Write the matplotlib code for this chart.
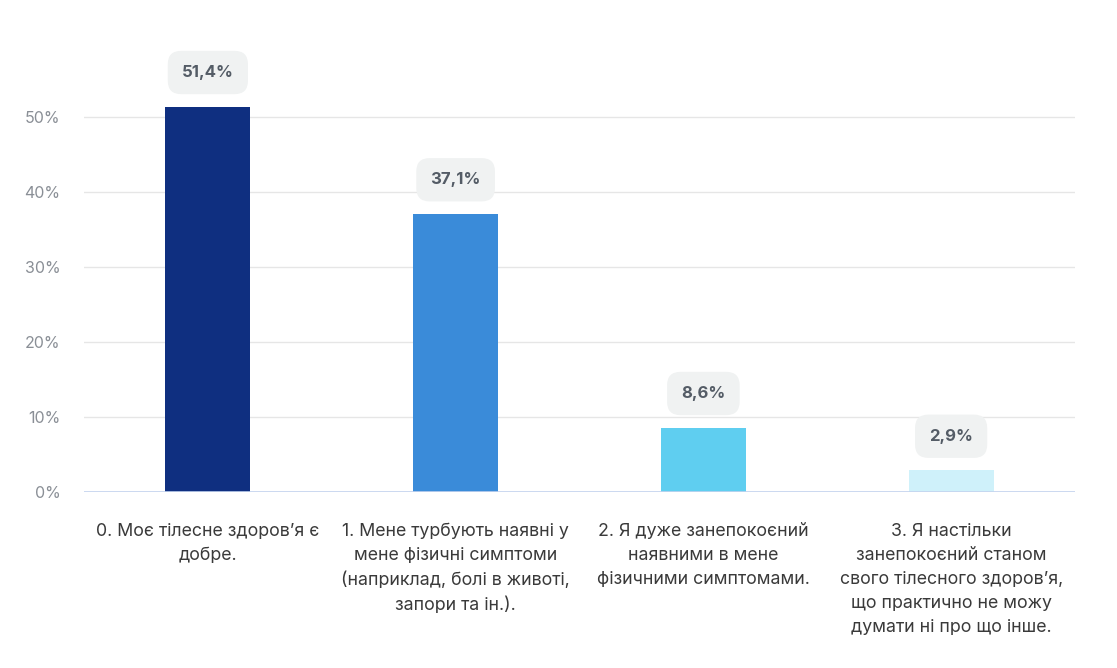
import matplotlib
matplotlib.use('Agg')
import matplotlib.pyplot as plt

categories = [
    "0. Моє тілесне здоров’я є\nдобре.",
    "1. Мене турбують наявні у\nмене фізичні симптоми\n(наприклад, болі в животі,\nзапори та ін.).",
    "2. Я дуже занепокоєний\nнаявними в мене\nфізичними симптомами.",
    "3. Я настільки\nзанепокоєний станом\nсвого тілесного здоров’я,\nщо практично не можу\nдумати ні про що інше.",
]
values = [51.4, 37.1, 8.6, 2.9]
value_labels = ["51,4%", "37,1%", "8,6%", "2,9%"]
yticks = [0, 10, 20, 30, 40, 50]
colors = ["#0f2f80", "#3a8bd9", "#5fcef0", "#cff1fa"]

plt.rcParams['font.family'] = ['Inter', 'DejaVu Sans']

fig = plt.figure(figsize=(11.17, 6.68), dpi=100)
ax = fig.add_axes([84 / 1117, 1 - 492 / 668, 991 / 1117, 450 / 668])

x = range(len(values))
ax.bar(x, values, width=0.343, color=colors, zorder=3)

for i, v in enumerate(values):
    ax.annotate(value_labels[i], (i, v), xytext=(0, 34), textcoords='offset pixels',
                ha='center', va='center', fontsize=12, fontweight='bold', color='#545c66',
                bbox=dict(boxstyle='round,pad=0.85,rounding_size=0.8', fc='#f0f2f2', ec='none'),
                zorder=4)

ax.set_xlim(-0.5, 3.5)
ax.set_ylim(0, 60)
ax.set_yticks(yticks)
ax.set_yticklabels([f"{t}%" for t in yticks])
ax.set_xticks(list(x))
ax.set_xticklabels(categories, fontsize=12.8, color='#3a3a3a', linespacing=1.55, va='top')

ax.grid(axis='y', color='#e6e6e6', linewidth=1, zorder=0)
ax.axhline(0, color='#c3d3ee', linewidth=1.2, zorder=5)
for s in ax.spines.values():
    s.set_visible(False)
ax.tick_params(axis='both', length=0)
ax.tick_params(axis='y', labelsize=11.5, labelcolor='#8a8f96', pad=17)
ax.tick_params(axis='x', pad=22)

fig.savefig('out.png', dpi=100)
